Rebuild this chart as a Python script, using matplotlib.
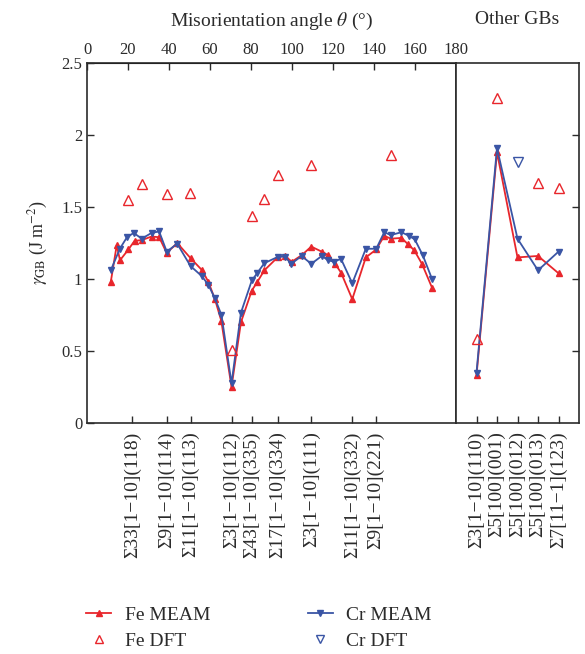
import matplotlib
matplotlib.use("Agg")
import matplotlib.pyplot as plt
from matplotlib.lines import Line2D

plt.rcParams["font.family"] = ["Liberation Serif", "DejaVu Serif"]
plt.rcParams["mathtext.fontset"] = "stix"

# misorientation series ([1-10] tilt GBs)
fe_ang = [11.6, 14.5, 16.1, 20.2, 23.2, 26.7, 31.5, 35.2, 38.9, 44.0, 50.5, 56.2, 59.2,
          62.4, 65.5, 70.5, 75.1, 80.4, 83.1, 86.5, 93.3, 96.6, 99.9, 104.7, 109.4,
          114.5, 117.7, 121.0, 123.9, 129.4, 136.0, 141.1, 145.0, 148.2, 153.4, 156.7,
          159.6, 163.4, 168.3]
fe_meam = [0.98, 1.235, 1.13, 1.205, 1.265, 1.27, 1.295, 1.29, 1.18, 1.25, 1.145, 1.06, 0.98,
           0.86, 0.71, 0.25, 0.70, 0.92, 0.98, 1.06, 1.155, 1.16, 1.12, 1.165, 1.225,
           1.19, 1.165, 1.105, 1.045, 0.86, 1.15, 1.205, 1.30, 1.28, 1.285, 1.24,
           1.20, 1.105, 0.94]
cr_ang = [11.6, 16.0, 19.5, 22.8, 26.7, 31.5, 35.2, 38.9, 44.0, 50.5, 56.0, 59.2, 62.4,
          65.6, 70.5, 75.1, 80.4, 83.0, 86.5, 93.3, 96.6, 99.6, 104.7, 109.4, 114.5,
          117.7, 120.4, 123.9, 129.4, 136.0, 141.1, 145.0, 148.2, 153.4, 157.0, 159.9,
          163.8, 168.3]
cr_meam = [1.06, 1.21, 1.29, 1.32, 1.28, 1.32, 1.33, 1.19, 1.245, 1.09, 1.02, 0.96, 0.865,
           0.75, 0.275, 0.766, 0.99, 1.04, 1.11, 1.155, 1.155, 1.105, 1.16, 1.105, 1.16,
           1.13, 1.12, 1.14, 0.97, 1.21, 1.21, 1.325, 1.305, 1.325, 1.30, 1.275,
           1.165, 1.0]
fe_dft_ang = [20.2, 26.7, 38.9, 50.2, 70.5, 80.4, 86.5, 93.3, 109.4, 148.2]
fe_dft = [1.55, 1.66, 1.59, 1.60, 0.51, 1.44, 1.555, 1.72, 1.79, 1.86]

gb_ticks = [22, 39, 50.5, 70.5, 80.5, 93, 109.5, 129.5, 141]
gb_labels = ["Σ33[1−10](118)", "Σ9[1−10](114)", "Σ11[1−10](113)", "Σ3[1−10](112)",
             "Σ43[1−10](335)", "Σ17[1−10](334)", "Σ3[1−10](111)", "Σ11[1−10](332)",
             "Σ9[1−10](221)"]

# other GBs
other_labels = ["Σ3[1−10](110)", "Σ5[100](001)", "Σ5[100](012)", "Σ5[100](013)", "Σ7[11−1](123)"]
other_x = [1, 2, 3, 4, 5]
fe_meam_o = [0.33, 1.88, 1.15, 1.16, 1.04]
cr_meam_o = [0.35, 1.91, 1.28, 1.06, 1.19]
fe_dft_ox = [1, 2, 4, 5]
fe_dft_o = [0.58, 2.26, 1.67, 1.63]
cr_dft_ox = [3]
cr_dft_o = [1.81]

red = "#e8262c"
blue = "#3a55a5"
txt = "#2b2b2b"

W, H = 585, 654
fig = plt.figure(figsize=(W / 100, H / 100), dpi=100)
bottom = 1 - 423 / H
height = 360 / H
ax = fig.add_axes([87 / W, bottom, (456 - 87) / W, height])
ax2 = fig.add_axes([456 / W, bottom, (579 - 456) / W, height])

meam_kw = dict(lw=1.3, ms=4)
dft_kw = dict(ls="none", ms=7, mfc="none", mew=1.0)

ax.plot(fe_ang, fe_meam, color=red, marker="^", **meam_kw)
ax.plot(cr_ang, cr_meam, color=blue, marker="v", **meam_kw)
ax.plot(fe_dft_ang, fe_dft, color=red, marker="^", mec=red, **dft_kw)

ax2.plot(other_x, fe_meam_o, color=red, marker="^", **meam_kw)
ax2.plot(other_x, cr_meam_o, color=blue, marker="v", **meam_kw)
ax2.plot(fe_dft_ox, fe_dft_o, color=red, marker="^", mec=red, **dft_kw)
ax2.plot(cr_dft_ox, cr_dft_o, color=blue, marker="v", mec=blue, **dft_kw)

for a in (ax, ax2):
    a.set_ylim(0, 2.5)
    for s in a.spines.values():
        s.set_linewidth(1.2)
        s.set_color(txt)
    a.tick_params(direction="in", length=5, width=1, colors=txt, labelsize=12)
    a.tick_params(axis="x", labelsize=14, pad=6)

ax.set_xlim(0, 180)
ax.set_yticks([0, 0.5, 1, 1.5, 2, 2.5])
ax.set_yticklabels(["0", "0.5", "1", "1.5", "2", "2.5"])
ax.set_xticks(gb_ticks)
ax.set_xticklabels(gb_labels, rotation=90)
ax.set_ylabel(r"$\gamma_{\rm GB}$ (J m$^{-2}$)", fontsize=13, color=txt, labelpad=8)

top = ax.secondary_xaxis("top")
top.set_xticks(range(0, 181, 20))
top.tick_params(direction="in", length=5, width=1, colors=txt, labelsize=12)
top.set_xlabel("Misorientation angle $\\theta$ (°)", fontsize=14, color=txt, labelpad=12)

ax2.set_xlim(0, 6)
ax2.set_xticks(other_x)
ax2.set_xticklabels(other_labels, rotation=90)
ax2.set_yticks([0.5, 1, 1.5, 2])
ax2.yaxis.tick_right()
ax2.tick_params(labelright=False)
ax2.set_title("Other GBs", fontsize=14, color=txt, pad=28)

handles = [
    Line2D([], [], color=red, marker="^", lw=1.3, ms=4),
    Line2D([], [], color=red, marker="^", ls="none", ms=6, mfc="none", mew=1.0),
    Line2D([], [], color=blue, marker="v", lw=1.3, ms=4),
    Line2D([], [], color=blue, marker="v", ls="none", ms=6, mfc="none", mew=1.0),
]
fig.legend(handles, ["Fe MEAM", "Fe DFT", "Cr MEAM", "Cr DFT"], ncol=2,
           loc="lower left", bbox_to_anchor=(82 / W, 0.0), frameon=False,
           fontsize=14, columnspacing=5.0, handlelength=1.3, handletextpad=0.7,
           labelspacing=0.45, borderpad=0.1, borderaxespad=0.1, labelcolor=txt)

fig.savefig("out.png", dpi=100)
